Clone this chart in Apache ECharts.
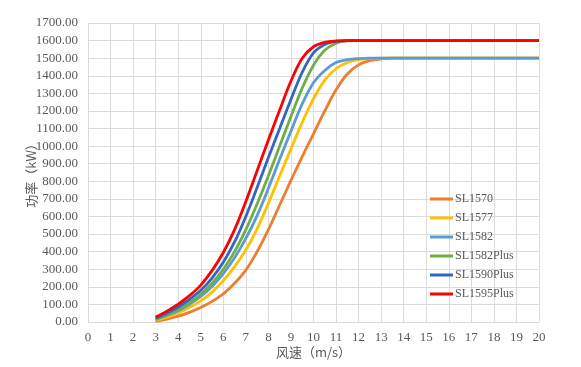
<!DOCTYPE html>
<html><head><meta charset="utf-8">
<script src="https://cdn.jsdelivr.net/npm/echarts@6/dist/echarts.min.js"></script>
<style>html,body{margin:0;padding:0;background:#fff}#c{width:581px;height:367px}</style>
</head><body><div id="c"></div>
<script>
const winds = [3,3.5,4,4.5,5,5.5,6,6.5,7,7.5,8,8.5,9,9.5,10,10.5,11,11.5,12,12.5,13,13.5,14,14.5,15,15.5,16,16.5,17,17.5,18,18.5,19,19.5,20];
const seriesNames = ['SL1570','SL1577','SL1582','SL1582Plus','SL1590Plus','SL1595Plus'];
const sl1570 = [4,16,33,55,82,117,160,220,295,400,525,665,805,940,1070,1200,1320,1410,1462,1486,1496,1500,1500,1500,1500,1500,1500,1500,1500,1500,1500,1500,1500,1500,1500];
const sl1577 = [10,28,52,82,120,170,235,315,410,530,675,830,985,1135,1270,1375,1440,1475,1492,1498,1500,1500,1500,1500,1500,1500,1500,1500,1500,1500,1500,1500,1500,1500,1500];
const sl1582 = [15,37,64,100,145,202,275,365,475,605,760,925,1085,1240,1360,1430,1475,1492,1498,1500,1500,1500,1500,1500,1500,1500,1500,1500,1500,1500,1500,1500,1500,1500,1500];
const sl1582plus = [18,42,72,110,158,220,300,400,525,672,832,1000,1168,1330,1460,1545,1585,1598,1600,1600,1600,1600,1600,1600,1600,1600,1600,1600,1600,1600,1600,1600,1600,1600,1600];
const sl1590plus = [22,50,85,128,180,250,340,455,600,765,935,1100,1265,1420,1530,1578,1595,1600,1600,1600,1600,1600,1600,1600,1600,1600,1600,1600,1600,1600,1600,1600,1600,1600,1600];
const sl1595plus = [28,62,102,150,210,292,395,525,685,860,1035,1205,1370,1500,1565,1590,1598,1600,1600,1600,1600,1600,1600,1600,1600,1600,1600,1600,1600,1600,1600,1600,1600,1600,1600];
const allValues = [sl1570, sl1577, sl1582, sl1582plus, sl1590plus, sl1595plus];
const colors = ['#ED7D31','#FFC000','#5B9BD5','#70AD47','#3366C0','#FF0000'];
const labelFont = 'Liberation Serif';
const chart = echarts.init(document.getElementById('c'), null, {renderer:'canvas'});
chart.setOption({
  animation:false,
  backgroundColor:'#fff',
  color: colors,
  grid:{left:88, right:42, top:23, bottom:45, containLabel:false},
  legend:{
    orient:'vertical', left:425, top:188, itemGap:7, itemWidth:23, itemHeight:3, icon:'rect',
    textStyle:{color:'#595959', fontSize:12, fontFamily:labelFont, padding:[0,0,0,-3]},
    data: seriesNames
  },
  xAxis:{
    type:'value', min:0, max:20, interval:1,
    name:'风速（m/s）', nameLocation:'middle', nameGap:24, nameMoveOverlap:false,
    nameTextStyle:{color:'#595959', fontSize:13, fontFamily:'Noto Sans CJK SC'},
    axisLine:{show:true, lineStyle:{color:'#d9d9d9'}},
    axisTick:{show:false},
    axisLabel:{color:'#595959', fontSize:13, fontFamily:labelFont, margin:9},
    splitLine:{show:true, lineStyle:{color:'#dcdcdc', width:1}}
  },
  yAxis:{
    type:'value', min:0, max:1700, interval:100,
    name:'功率（kW）', nameLocation:'middle', nameGap:50, nameRotate:90, nameMoveOverlap:false,
    nameTextStyle:{color:'#595959', fontSize:13, fontFamily:'Noto Sans CJK SC'},
    axisLine:{show:false}, axisTick:{show:false},
    axisLabel:{color:'#595959', fontSize:13, fontFamily:labelFont, margin:10, formatter:v=>v.toFixed(2)},
    splitLine:{show:true, lineStyle:{color:'#dcdcdc', width:1}}
  },
  series: seriesNames.map((n,k)=>({
    name:n, type:'line', smooth:0.35, showSymbol:false, symbol:'none',
    lineStyle:{width:2.8, color:colors[k]},
    data: winds.map((w,i)=>[w, allValues[k][i]])
  }))
});
</script></body></html>
